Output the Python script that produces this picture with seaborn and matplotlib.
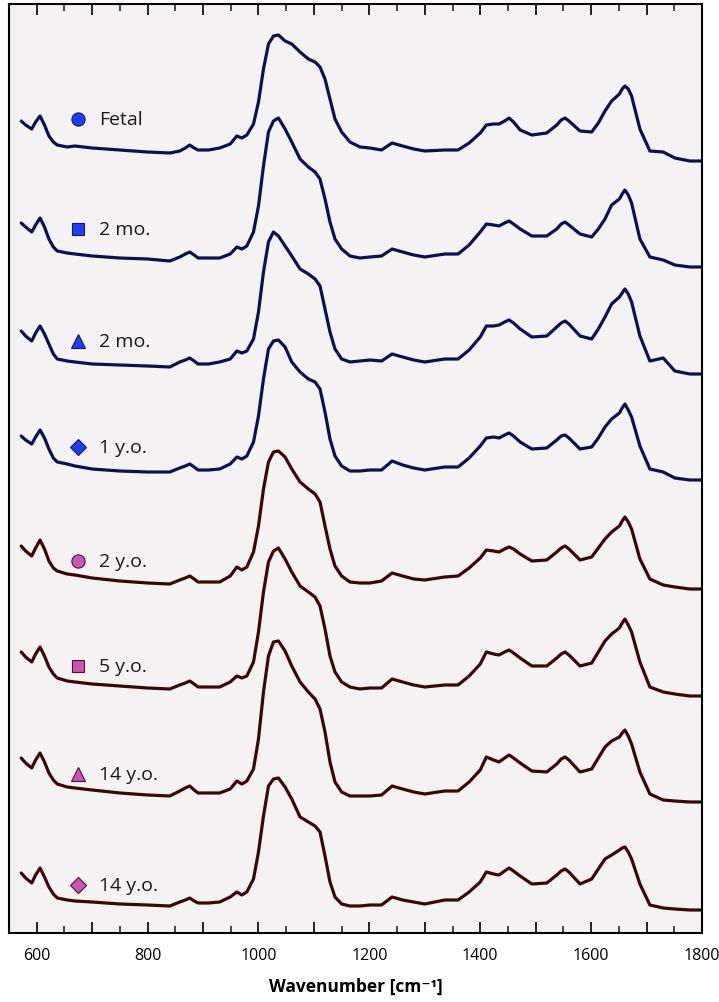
import numpy as np
import pandas as pd
import matplotlib
matplotlib.use("Agg")
import matplotlib.pyplot as plt
import matplotlib.ticker as mticker
import seaborn as sns

# ---------------- data ----------------
wn_low = [572, 580, 591, 598, 606, 614, 622, 630, 637, 655, 669, 700, 750, 800,
          840, 858, 868, 876, 884, 891, 910]
wn_mid = [930, 949, 961, 970, 979, 991, 1000, 1009, 1018, 1027, 1036, 1048, 1060,
          1075, 1090, 1102, 1111, 1120, 1129, 1138, 1150, 1165, 1183, 1201]
wn_high = [1222, 1241, 1260, 1280, 1300, 1336, 1360, 1380, 1400, 1411, 1424, 1434,
           1444, 1452, 1460, 1472, 1493, 1520, 1538, 1546, 1553, 1560, 1580, 1601,
           1613, 1625, 1637, 1651, 1656, 1661, 1667, 1673, 1688, 1706, 1730, 1751,
           1778, 1800]
wavenumber = wn_low + wn_mid + wn_high

fetal = ([40, 36, 32, 39, 45, 36, 25, 19, 16, 14, 15, 13, 11, 9, 8, 10, 13, 16, 13, 11, 11]
         + [13, 17, 25, 23, 26, 37, 59, 92, 117, 125, 126, 120, 117, 109, 102, 99, 94, 82,
            62, 42, 29, 19, 14, 13]
         + [11, 18, 15, 12, 10, 11, 11, 18, 28, 36, 37, 37, 40, 43, 39, 31, 26, 28, 36, 41,
            43, 40, 30, 29, 38, 50, 60, 67, 72, 75, 72, 65, 32, 10, 9, 3, 0, 0])
mo2_a = ([44, 40, 35, 42, 49, 40, 28, 20, 16, 14, 13, 11, 9, 8, 6, 10, 13, 15, 12, 9, 9]
         + [9, 13, 20, 18, 21, 35, 61, 101, 135, 146, 149, 138, 125, 108, 100, 95, 88, 68,
            45, 28, 18, 11, 9, 10]
         + [11, 18, 15, 12, 10, 13, 13, 22, 35, 43, 42, 41, 44, 46, 43, 38, 31, 31, 38, 43,
            45, 42, 33, 30, 38, 48, 62, 68, 73, 77, 72, 64, 28, 10, 7, 2, 0, 0])
mo2_b = ([43, 38, 33, 41, 48, 40, 30, 20, 15, 13, 12, 10, 9, 8, 7, 12, 14, 16, 13, 10, 10]
         + [12, 15, 23, 21, 23, 35, 62, 102, 132, 142, 138, 128, 118, 105, 100, 95, 88, 65,
            42, 25, 15, 12, 13, 14]
         + [13, 20, 17, 14, 12, 15, 15, 24, 37, 48, 48, 49, 52, 54, 51, 45, 37, 38, 47, 51,
            53, 50, 38, 35, 45, 57, 70, 77, 81, 85, 80, 72, 38, 13, 16, 3, 0, 0])
yo1 = ([44, 40, 36, 43, 50, 42, 31, 22, 18, 16, 14, 11, 9, 8, 8, 12, 14, 16, 13, 10, 10]
       + [11, 16, 23, 21, 24, 38, 64, 101, 131, 139, 140, 133, 118, 108, 101, 98, 91, 68,
          41, 24, 14, 9, 9, 10]
       + [10, 19, 15, 12, 10, 13, 13, 22, 34, 42, 43, 42, 45, 47, 44, 38, 31, 32, 40, 44,
          45, 42, 31, 33, 42, 53, 61, 67, 72, 76, 70, 63, 34, 11, 8, 2, 0, 0])
yo2 = ([43, 38, 33, 41, 49, 40, 28, 21, 18, 15, 14, 11, 8, 6, 5, 9, 11, 13, 10, 7, 7]
       + [7, 13, 22, 19, 22, 37, 63, 100, 127, 137, 138, 132, 120, 107, 100, 95, 87, 63,
          40, 23, 13, 7, 6, 6]
       + [8, 16, 13, 10, 9, 12, 13, 21, 31, 39, 38, 37, 40, 42, 40, 35, 28, 29, 37, 41,
          43, 40, 29, 32, 41, 50, 57, 63, 68, 72, 67, 60, 30, 10, 4, 2, 0, 0])
yo5 = ([44, 39, 34, 42, 49, 40, 29, 22, 18, 15, 14, 12, 10, 8, 7, 11, 13, 15, 12, 9, 9]
       + [9, 14, 20, 18, 20, 34, 64, 104, 134, 145, 148, 137, 124, 110, 104, 99, 90, 67,
          40, 24, 14, 9, 7, 8]
       + [8, 17, 14, 11, 9, 11, 11, 20, 32, 44, 42, 41, 44, 46, 43, 38, 30, 30, 38, 42,
          44, 41, 30, 33, 44, 55, 62, 68, 73, 77, 71, 64, 34, 9, 4, 2, 0, 0])
yo14_a = ([44, 39, 34, 42, 49, 40, 29, 22, 18, 15, 14, 12, 9, 7, 6, 11, 14, 16, 12, 9, 9]
          + [9, 13, 21, 18, 21, 33, 63, 110, 146, 160, 161, 151, 136, 120, 110, 103, 93, 70,
             40, 20, 10, 6, 6, 6]
          + [7, 16, 13, 10, 8, 11, 11, 20, 32, 45, 42, 40, 44, 47, 44, 39, 31, 30, 38, 43,
             45, 42, 30, 33, 44, 55, 61, 65, 69, 72, 66, 58, 30, 8, 2, 1, 0, 0])
yo14_b = ([37, 32, 27, 35, 42, 33, 23, 16, 12, 10, 9, 8, 6, 5, 4, 8, 10, 12, 9, 7, 7]
          + [8, 13, 18, 15, 18, 31, 58, 94, 124, 131, 132, 123, 111, 93, 88, 84, 78, 54,
             28, 13, 6, 4, 4, 5]
          + [5, 13, 10, 8, 6, 10, 10, 18, 28, 38, 36, 35, 39, 42, 39, 34, 26, 27, 35, 39,
             41, 38, 26, 31, 41, 51, 55, 60, 62, 63, 58, 51, 26, 5, 2, 1, 0, 0])

labels = ["Fetal", "2 mo.", "2 mo.", "1 y.o.", "2 y.o.", "5 y.o.", "14 y.o.", "14 y.o."]
series = [fetal, mo2_a, mo2_b, yo1, yo2, yo5, yo14_a, yo14_b]
markers = ["o", "s", "^", "D", "o", "s", "^", "D"]
tick_values = [600, 800, 1000, 1200, 1400, 1600, 1800]

# ---------------- layout / style ----------------
offsets = [772, 666, 559, 453, 344, 237, 131, 23]
label_lift = [42, 38, 33, 33, 28, 30, 28, 25]
marker_x = 674
text_x = 712
navy = "#0c1150"
brown = "#3b0709"
line_colors = [navy] * 4 + [brown] * 4
marker_face = ["#1f3df5"] * 4 + ["#cc55b0"] * 4
marker_edge = ["#101a60"] * 4 + ["#4a1040"] * 4
marker_size = {"o": 9.5, "s": 8.5, "^": 9.5, "D": 8.5}

sns.set_theme(style="white")
plt.rcParams["font.family"] = ["Open Sans", "DejaVu Sans"]

rows = []
for i, (lab, vals) in enumerate(zip(labels, series)):
    for w, v in zip(wavenumber, vals):
        rows.append({"wavenumber": w, "signal": v + offsets[i], "id": f"{i}_{lab}"})
df = pd.DataFrame(rows)

fig = plt.figure(figsize=(7.19, 10.03), dpi=100)
ax = fig.add_axes([9 / 719, 1 - 934 / 1003, (702 - 9) / 719, (934 - 5) / 1003])
ax.set_facecolor("#f4f2f3")

ids = list(dict.fromkeys(df["id"]))
sns.lineplot(data=df, x="wavenumber", y="signal", hue="id", hue_order=ids,
             palette=dict(zip(ids, line_colors)), estimator=None, sort=False,
             linewidth=2.3, legend=False, ax=ax,
             solid_joinstyle="round", solid_capstyle="round")

for i, lab in enumerate(labels):
    y = offsets[i] + label_lift[i]
    ax.plot([marker_x], [y], marker=markers[i], markersize=marker_size[markers[i]],
            markerfacecolor=marker_face[i], markeredgecolor=marker_edge[i],
            markeredgewidth=0.8, linestyle="none")
    ax.text(text_x, y, lab, fontsize=14, va="center", ha="left", color="#1a1a1a")

ax.set_xlim(550, 1800)
ax.set_ylim(0, 929)
ax.set_yticks([])
ax.xaxis.set_major_locator(mticker.MultipleLocator(100))
ax.xaxis.set_minor_locator(mticker.MultipleLocator(50))
ax.xaxis.set_major_formatter(mticker.FuncFormatter(
    lambda v, p: f"{int(round(v))}" if int(round(v)) in tick_values else ""))
ax.tick_params(axis="x", which="major", direction="in", length=8, width=1.2,
               top=True, bottom=True, labelsize=11.5, pad=10, colors="black")
ax.tick_params(axis="x", which="minor", direction="in", length=5, width=1.2,
               top=True, bottom=True)

for s in ax.spines.values():
    s.set_color("black")
    s.set_linewidth(1.5)

ax.set_xlabel("Wavenumber [cm⁻¹]", fontsize=12.5, fontweight="bold", labelpad=10,
              color="black")
ax.set_ylabel("")

fig.savefig("out.png", dpi=100, facecolor="white")
